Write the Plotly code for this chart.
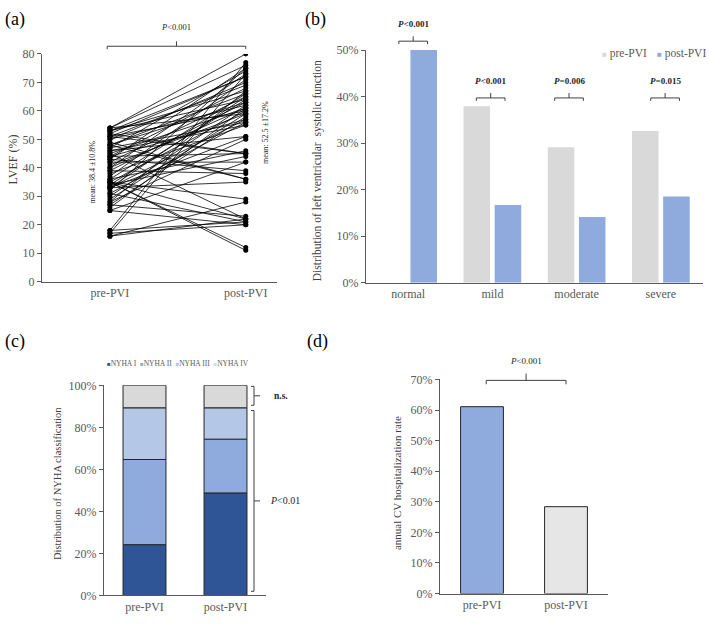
import plotly.graph_objects as go

W, H = 709, 624
FONT = "Liberation Serif, Times New Roman, serif"
TICK_COL = "#595959"
AXIS_COL = "#595959"

# (a) LVEF per patient, pre and post PVI
lvef_pre = [54, 54, 53, 53, 52, 52, 51, 51, 50, 50,
            48, 48, 47, 47, 46, 45, 45, 44, 44, 43,
            42, 42, 41, 40, 40, 39, 39, 38, 37, 36,
            35, 35, 35, 34, 34, 33, 33, 32, 31, 30,
            29, 28, 28, 27, 27, 26, 25, 25, 35, 31,
            33, 36, 35, 18, 18, 17, 17, 16, 16, 33,
            54, 53, 51, 49, 48, 46, 44, 43]
lvef_post = [80, 76, 64, 67, 72, 45, 60, 45, 70, 62,
             66, 36, 74, 56, 51, 61, 22, 68, 57, 39,
             65, 42, 59, 73, 61, 63, 38, 55, 71, 46,
             12, 60, 29, 64, 44, 57, 35, 75, 21, 62,
             59, 67, 50, 58, 23, 61, 42, 20, 11, 56,
             51, 66, 22, 77, 21, 73, 20, 22, 28, 65,
             59, 72, 69, 36, 63, 55, 45, 75]
groups = ["pre-PVI", "post-PVI"]
lvef_means = [38.4, 52.5]
lvef_mean_text = ["mean: 38.4 \u00b110.8%", "mean: 52.5 \u00b117.2%"]

# (b) LV systolic function
lv_categories = ["normal", "mild", "moderate", "severe"]
lv_pre = [0.0, 0.379, 0.291, 0.326]
lv_post = [0.500, 0.167, 0.141, 0.185]
lv_pvalues = ["<i>P</i>&lt;0.001", "<i>P</i>&lt;0.001", "<i>P</i>=0.006", "<i>P</i>=0.015"]

# (c) NYHA classification
nyha_classes = ["NYHA I", "NYHA II", "NYHA III", "NYHA IV"]
nyha_pre = [0.242, 0.405, 0.246, 0.107]
nyha_post = [0.488, 0.256, 0.149, 0.107]
nyha_colors = ["#2f5597", "#8faadc", "#b4c7e7", "#d9d9d9"]

# (d) annual CV hospitalization rate
hosp_rate = [0.611, 0.284]


def fx(px):
    return px / W


def fy(py):
    return 1 - py / H


def to_paper(v, dom, rng):
    return dom[0] + (v - rng[0]) / (rng[1] - rng[0]) * (dom[1] - dom[0])


# subplot domains / ranges
a_dx, a_rx = [fx(42), fx(277)], [-0.5, 1.23]
a_dy, a_ry = [fy(281), fy(48)], [0, 80]
b_dx, b_rx = [fx(366), fx(703)], [-0.5, 3.5]
b_dy, b_ry = [fy(282), fy(44)], [0, 0.5]
c_dx, c_rx = [fx(104), fx(266)], [-0.5, 1.5]
c_dy, c_ry = [fy(602), fy(387)], [0, 1]
d_dx, d_rx = [fx(440), fx(608)], [-0.5, 1.5]
d_dy, d_ry = [fy(600), fy(381)], [0, 0.7]

fig = go.Figure()

# (a) paired lines
xs, ys = [], []
for p, q in zip(lvef_pre, lvef_post):
    xs += [groups[0], groups[1], None]
    ys += [p, q, None]
fig.add_trace(go.Scatter(x=xs, y=ys, mode="lines+markers",
                         line=dict(color="black", width=0.8),
                         marker=dict(color="black", size=5),
                         xaxis="x", yaxis="y", showlegend=False))

# (b) grouped bars
bw = 0.315
fig.add_trace(go.Bar(x=lv_categories, y=lv_pre, width=bw, offset=-0.185 - bw / 2,
                     marker=dict(color="#d9d9d9", line=dict(width=0)),
                     xaxis="x2", yaxis="y2", showlegend=False))
fig.add_trace(go.Bar(x=lv_categories, y=lv_post, width=bw, offset=0.185 - bw / 2,
                     marker=dict(color="#8faadc", line=dict(width=0)),
                     xaxis="x2", yaxis="y2", showlegend=False))

# (c) stacked bars
base_pre, base_post = 0, 0
for i, name in enumerate(nyha_classes):
    fig.add_trace(go.Bar(x=groups, y=[nyha_pre[i], nyha_post[i]],
                         base=[base_pre, base_post], width=0.53, offset=-0.265,
                         marker=dict(color=nyha_colors[i], line=dict(color="#262626", width=1)),
                         name=name, xaxis="x3", yaxis="y3", showlegend=False))
    base_pre += nyha_pre[i]
    base_post += nyha_post[i]

# (d) hospitalization
fig.add_trace(go.Bar(x=groups, y=hosp_rate, width=0.51, offset=-0.255,
                     marker=dict(color=["#8faadc", "#e7e6e6"], line=dict(color="#262626", width=1)),
                     xaxis="x4", yaxis="y4", showlegend=False))

tickfont = dict(family=FONT, size=12, color=TICK_COL)


def xax(dom, rng, anchor):
    return dict(domain=dom, range=rng, type="category", showline=True, linecolor=AXIS_COL,
                linewidth=1, ticks="", showgrid=False, zeroline=False, tickfont=tickfont,
                anchor=anchor, fixedrange=True)


def yax(dom, rng, dtick, fmt, anchor):
    return dict(domain=dom, range=rng, dtick=dtick, tickformat=fmt, showline=True,
                linecolor=AXIS_COL, linewidth=1, ticks="outside", ticklen=4,
                tickcolor=AXIS_COL, showgrid=False, zeroline=False, tickfont=tickfont,
                anchor=anchor, fixedrange=True)


fig.update_layout(
    width=W, height=H,
    margin=dict(l=0, r=0, t=0, b=0),
    paper_bgcolor="white", plot_bgcolor="white",
    barmode="overlay",
    font=dict(family=FONT, color="#404040"),
    xaxis=xax(a_dx, a_rx, "y"),
    yaxis=yax(a_dy, a_ry, 10, "", "x"),
    xaxis2=xax(b_dx, b_rx, "y2"),
    yaxis2=yax(b_dy, b_ry, 0.1, ".0%", "x2"),
    xaxis3=xax(c_dx, c_rx, "y3"),
    yaxis3=yax(c_dy, c_ry, 0.2, ".0%", "x3"),
    xaxis4=xax(d_dx, d_rx, "y4"),
    yaxis4=yax(d_dy, d_ry, 0.1, ".0%", "x4"),
)
fig.update_xaxes(categoryorder="array")
fig.layout.xaxis.categoryarray = groups
fig.layout.xaxis2.categoryarray = lv_categories
fig.layout.xaxis3.categoryarray = groups
fig.layout.xaxis4.categoryarray = groups

ann = []
shapes = []
LINE = dict(color="#404040", width=1)


def text(x, y, s, size, xanchor="center", angle=0, color="#262626"):
    ann.append(dict(x=x, y=y, xref="paper", yref="paper", text=s, showarrow=False,
                    xanchor=xanchor, yanchor="middle", textangle=angle,
                    font=dict(family=FONT, size=size, color=color)))


def hbrace(x0, x1, y, drop=3, rise=5):
    d, r, xm = drop / H, rise / H, (x0 + x1) / 2
    shapes.append(dict(type="path", xref="paper", yref="paper", line=LINE,
                       path=f"M{x0},{y - d} L{x0},{y} L{x1},{y} L{x1},{y - d} M{xm},{y} L{xm},{y + r}"))


def vbrace(x, y0, y1, back=3, out=6):
    b, o, ym = back / W, out / W, (y0 + y1) / 2
    shapes.append(dict(type="path", xref="paper", yref="paper", line=LINE,
                       path=f"M{x - b},{y0} L{x},{y0} L{x},{y1} L{x - b},{y1} M{x},{ym} L{x + o},{ym}"))


def swatch(color, size):
    return f"<span style='color:{color};font-size:{size}px'>\u25a0</span>"


# panel labels
for lbl, px, py in [("(a)", 3, 13), ("(b)", 303, 13), ("(c)", 3, 342), ("(d)", 305, 342)]:
    text(fx(px), fy(py), lbl, 18, "left", color="black")

# (a) annotations
text(fx(12), fy(156), "LVEF (%)", 12, angle=-90, color="#404040")
ax0 = to_paper(-0.02, a_dx, a_rx)
ax1 = to_paper(1.0, a_dx, a_rx)
hbrace(ax0, ax1, to_paper(82.7, a_dy, a_ry))
text((ax0 + ax1) / 2, to_paper(89.5, a_dy, a_ry), "<i>P</i>&lt;0.001", 8.5)
for i, off in enumerate([-0.13, 0.14]):
    text(to_paper(i + off, a_dx, a_rx), to_paper(lvef_means[i], a_dy, a_ry),
         lvef_mean_text[i], 8, angle=-90)

# (b) annotations
text(fx(317), fy(168), "Distribution of left ventricular  systolic function", 11.5,
     angle=-90, color="#404040")
shift = [0.06, -0.02, -0.09, 0.05]
for i, pv in enumerate(lv_pvalues):
    yb = 0.519 if i == 0 else 0.397
    c = i + shift[i]
    x0 = to_paper(c - 0.17, b_dx, b_rx)
    x1 = to_paper(c + 0.17, b_dx, b_rx)
    hbrace(x0, x1, to_paper(yb, b_dy, b_ry))
    text((x0 + x1) / 2, to_paper(yb + 0.037, b_dy, b_ry), "<b>" + pv + "</b>", 9)
text(fx(600), fy(48), swatch("#d9d9d9", 8) + " pre-PVI", 11.5, "left", color=TICK_COL)
text(fx(655), fy(48), swatch("#8faadc", 8) + " post-PVI", 11.5, "left", color=TICK_COL)

# (c) annotations
text(fx(57), fy(488), "Distribution of NYHA classification", 10.5, angle=-90, color="#404040")
leg = "  ".join(swatch(c, 6) + n for n, c in zip(nyha_classes, nyha_colors))
text(fx(178), fy(365), leg, 7.5, color=TICK_COL)
bx = fx(254)
vbrace(bx, to_paper(0.995, c_dy, c_ry), to_paper(0.905, c_dy, c_ry))
text(fx(272), to_paper(0.95, c_dy, c_ry), "<b>n.s.</b>", 9.5, "left")
vbrace(bx, to_paper(0.88, c_dy, c_ry), to_paper(0.02, c_dy, c_ry))
text(fx(268), to_paper(0.45, c_dy, c_ry), "<i>P</i>&lt;0.01", 10, "left")

# (d) annotations
text(fx(397), fy(487), "annual CV hospitalization rate", 11, angle=-90, color="#404040")
dx0 = to_paper(0.05, d_dx, d_rx)
dx1 = to_paper(1.0, d_dx, d_rx)
hbrace(dx0, dx1, to_paper(0.697, d_dy, d_ry), drop=4, rise=7)
text((dx0 + dx1) / 2, to_paper(0.76, d_dy, d_ry), "<i>P</i>&lt;0.001", 9)

fig.update_layout(annotations=ann, shapes=shapes)

# page body has a default margin; drop it so the figure sits at the window origin
fig.write_html("out.html", config={"displayModeBar": False},
               post_script="document.body.style.margin='0';")
